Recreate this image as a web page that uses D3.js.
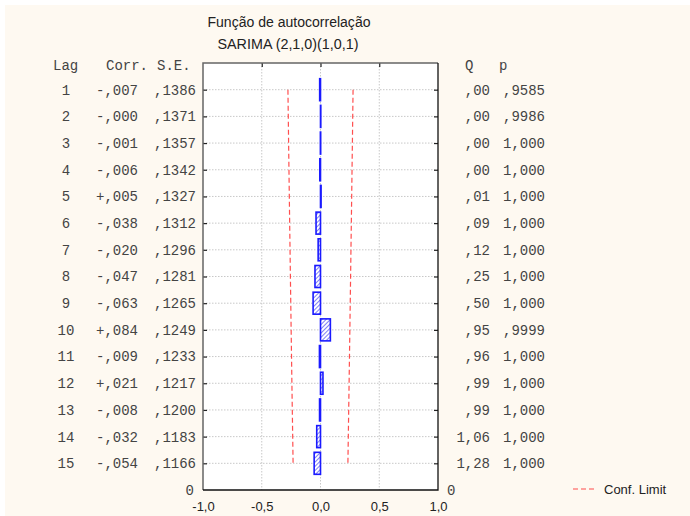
<!DOCTYPE html>
<html>
<head>
<meta charset="utf-8">
<script src="https://cdn.jsdelivr.net/npm/d3@7"></script>
<style>
  body { margin: 0; background: #fff; }
</style>
</head>
<body>
<div id="chart"></div>
<script>
const lags = [1, 2, 3, 4, 5, 6, 7, 8, 9, 10, 11, 12, 13, 14, 15];
const corr = [-0.007, -0.000, -0.001, -0.006, 0.005, -0.038, -0.020, -0.047, -0.063, 0.084, -0.009, 0.021, -0.008, -0.032, -0.054];
const se = [0.1386, 0.1371, 0.1357, 0.1342, 0.1327, 0.1312, 0.1296, 0.1281, 0.1265, 0.1249, 0.1233, 0.1217, 0.1200, 0.1183, 0.1166];
const qStat = [0.00, 0.00, 0.00, 0.00, 0.01, 0.09, 0.12, 0.25, 0.50, 0.95, 0.96, 0.99, 0.99, 1.06, 1.28];
const pVal = [0.9585, 0.9986, 1.000, 1.000, 1.000, 1.000, 1.000, 1.000, 1.000, 0.9999, 1.000, 1.000, 1.000, 1.000, 1.000];
const xTicks = [-1, -0.5, 0, 0.5, 1];

const W = 690, H = 516;
const plot = { left: 203, right: 438, top: 63, bottom: 490 };

const svg = d3.select("#chart").append("svg")
  .attr("width", W).attr("height", H)
  .style("display", "block");

// cream panel
svg.append("rect").attr("x", 5).attr("y", 5).attr("width", W - 5).attr("height", H - 5)
  .attr("fill", "#fef9f1");

const defs = svg.append("defs");
const pat = defs.append("pattern")
  .attr("id", "hatch").attr("patternUnits", "userSpaceOnUse")
  .attr("width", 3).attr("height", 3)
  .attr("patternTransform", "rotate(45)");
pat.append("rect").attr("width", 3).attr("height", 3).attr("fill", "#ffffff");
pat.append("line").attr("x1", 0).attr("y1", 0).attr("x2", 0).attr("y2", 3)
  .attr("stroke", "#3b3bf0").attr("stroke-width", 1.3);

const x = d3.scaleLinear().domain([-1, 1]).range([plot.left, plot.right]);
// lag k sits at position 16 - k, 0 at the bottom
const y = d3.scaleLinear().domain([0, 16]).range([plot.bottom, plot.top]);
const yLag = (k) => y(16 - k);

// comma decimals without leading zero, like the original table
const fmt = (v, d) => {
  let s = Math.abs(v).toFixed(d).replace(".", ",");
  if (s.startsWith("0,")) s = s.slice(1);
  return s;
};
const sign = (v) => (v < 0 || Object.is(v, -0)) ? "-" : "+";

svg.append("rect")
  .attr("x", plot.left).attr("y", plot.top)
  .attr("width", plot.right - plot.left).attr("height", plot.bottom - plot.top)
  .attr("fill", "#fff");

// grid
svg.append("g").selectAll("line").data(lags).join("line")
  .attr("x1", plot.left).attr("x2", plot.right)
  .attr("y1", (d) => yLag(d)).attr("y2", (d) => yLag(d))
  .attr("stroke", "#c8c8c8").attr("stroke-dasharray", "1.5,1.5");
svg.append("g").selectAll("line").data([-0.5, 0, 0.5]).join("line")
  .attr("x1", (d) => x(d)).attr("x2", (d) => x(d))
  .attr("y1", plot.top).attr("y2", plot.bottom)
  .attr("stroke", "#c8c8c8").attr("stroke-dasharray", "1.5,1.5");

// bars
const rows = lags.map((k, i) => ({ lag: k, c: corr[i], se: se[i], q: qStat[i], p: pVal[i] }));
const barH = 22;
svg.append("g").selectAll("rect").data(rows).join("rect")
  .attr("x", (d) => Math.min(x(0), x(d.c)))
  .attr("width", (d) => Math.max(0.3, Math.abs(x(d.c) - x(0))))
  .attr("y", (d) => yLag(d.lag) - barH / 2)
  .attr("height", barH)
  .attr("fill", "url(#hatch)")
  .attr("stroke", "#1a1aff").attr("stroke-width", 1.6);

// confidence limits (+/- 2 S.E.)
const confLine = (s) => d3.line().x((d) => x(s * 2 * d.se)).y((d) => yLag(d.lag));
[-1, 1].forEach((s) => {
  svg.append("path").datum(rows)
    .attr("d", confLine(s))
    .attr("fill", "none")
    .attr("stroke", "#ff3030").attr("stroke-opacity", 0.85)
    .attr("stroke-width", 1.2).attr("stroke-dasharray", "5,3");
});

// axes ticks (inside)
svg.append("g").attr("transform", `translate(${plot.left},0)`)
  .call(d3.axisLeft(y).tickValues(lags.map((k) => 16 - k)).tickSize(-4).tickFormat(""))
  .call((g) => g.select(".domain").remove());
svg.append("g").attr("transform", `translate(${plot.right},0)`)
  .call(d3.axisRight(y).tickValues(lags.map((k) => 16 - k)).tickSize(-4).tickFormat(""))
  .call((g) => g.select(".domain").remove());
svg.append("g").attr("transform", `translate(0,${plot.top})`)
  .call(d3.axisTop(x).tickValues([-0.5, 0, 0.5]).tickSize(-4).tickFormat(""))
  .call((g) => g.select(".domain").remove());
svg.selectAll(".tick line").attr("stroke", "#222").attr("stroke-width", 1.2);

// frame
svg.append("path")
  .attr("d", `M${plot.left},${plot.bottom}V${plot.top}H${plot.right}`)
  .attr("fill", "none").attr("stroke", "#666").attr("stroke-width", 1.5);
svg.append("path")
  .attr("d", `M${plot.left},${plot.bottom}H${plot.right}V${plot.top}`)
  .attr("fill", "none").attr("stroke", "#111").attr("stroke-width", 1.3);

// bottom axis labels
const xAxis = svg.append("g").attr("transform", `translate(0,${plot.bottom})`)
  .call(d3.axisBottom(x).tickValues(xTicks).tickSize(0).tickPadding(12)
    .tickFormat((d) => d3.format(".1f")(d).replace(".", ",").replace("−", "-")));
xAxis.select(".domain").remove();
xAxis.selectAll("text").attr("font-family", "Liberation Sans, Arial, sans-serif")
  .attr("font-size", 13).attr("fill", "#222");

// table text
const mono = "Liberation Mono, Courier New, monospace";
const tbl = svg.append("g").attr("font-family", mono).attr("font-size", 14).attr("fill", "#444");
const headY = 65;
tbl.append("text").attr("x", 53).attr("y", headY).attr("dy", "0.35em").text("Lag");
tbl.append("text").attr("x", 106).attr("y", headY).attr("dy", "0.35em").text("Corr.");
tbl.append("text").attr("x", 157).attr("y", headY).attr("dy", "0.35em").text("S.E.");
tbl.append("text").attr("x", 465).attr("y", headY).attr("dy", "0.35em").text("Q");
tbl.append("text").attr("x", 499).attr("y", headY).attr("dy", "0.35em").text("p");

const rowG = tbl.selectAll("g.row").data(rows).join("g").attr("class", "row")
  .attr("transform", (d) => `translate(0,${yLag(d.lag)})`);
rowG.append("text").attr("x", 66).attr("dy", "0.35em").attr("text-anchor", "middle")
  .text((d) => d.lag);
rowG.append("text").attr("x", 96).attr("dy", "0.35em")
  .text((d) => sign(d.c) + fmt(d.c, 3));
rowG.append("text").attr("x", 196).attr("dy", "0.35em").attr("text-anchor", "end")
  .text((d) => fmt(d.se, 4));
rowG.append("text").attr("x", 490).attr("dy", "0.35em").attr("text-anchor", "end")
  .text((d) => fmt(d.q, 2));
rowG.append("text").attr("x", 545).attr("dy", "0.35em").attr("text-anchor", "end")
  .text((d) => d.p < 1 ? fmt(d.p, 4) : fmt(d.p, 3));

// zero labels at the foot of both y axes
tbl.append("text").attr("x", 194).attr("y", plot.bottom).attr("dy", "0.35em")
  .attr("text-anchor", "end").text("0");
tbl.append("text").attr("x", 447).attr("y", plot.bottom).attr("dy", "0.35em").text("0");

// title
const title = svg.append("g").attr("font-family", "Liberation Sans, Arial, sans-serif")
  .attr("font-size", 14).attr("fill", "#222").attr("text-anchor", "middle");
title.append("text").attr("x", 289).attr("y", 22).attr("dy", "0.35em")
  .attr("textLength", 163).attr("lengthAdjust", "spacingAndGlyphs")
  .text("Função de autocorrelação");
title.append("text").attr("x", 288).attr("y", 44).attr("dy", "0.35em")
  .attr("textLength", 141).attr("lengthAdjust", "spacingAndGlyphs")
  .text("SARIMA (2,1,0)(1,0,1)");

// legend
const leg = svg.append("g").attr("transform", "translate(573,489)");
leg.append("line").attr("x1", 0).attr("x2", 23).attr("y1", 0).attr("y2", 0)
  .attr("stroke", "#ff3030").attr("stroke-opacity", 0.85)
  .attr("stroke-width", 1.2).attr("stroke-dasharray", "5,3");
leg.append("text").attr("x", 31).attr("dy", "0.35em")
  .attr("font-family", "Liberation Sans, Arial, sans-serif").attr("font-size", 13)
  .attr("fill", "#222").text("Conf. Limit");
</script>
</body>
</html>
